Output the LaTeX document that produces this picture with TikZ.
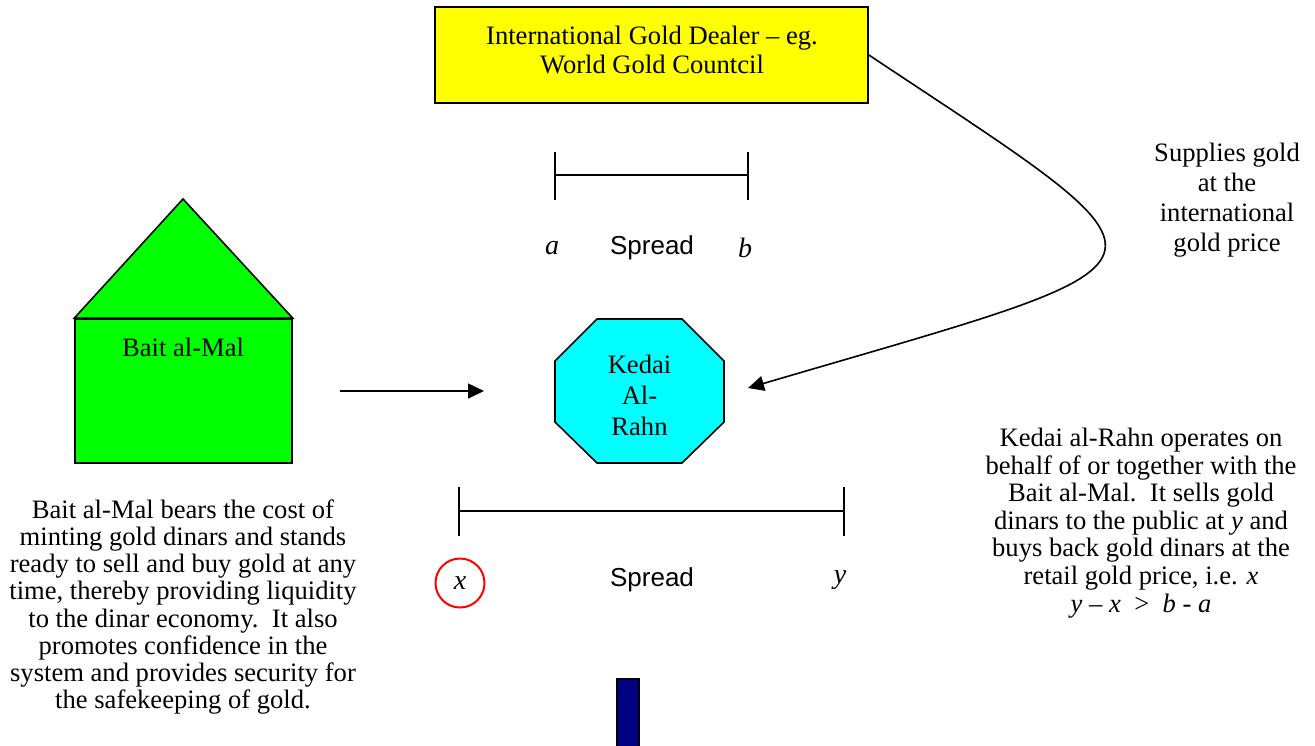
\documentclass[tikz,border=0pt]{standalone}
\usepackage{fontspec}
\setmainfont{Liberation Serif}
\setsansfont{Liberation Sans}
\usetikzlibrary{arrows.meta}
\definecolor{navy}{HTML}{000080}
\definecolor{goldbox}{HTML}{FFFF00}
\definecolor{baitgreen}{HTML}{00FF00}
\definecolor{kedaicyan}{HTML}{00FFFF}

\begin{document}
\begin{tikzpicture}[x=0.5pt,y=-0.5pt,line width=0.8pt,
    arr/.style={-{Triangle[length=8pt,width=7.5pt]}},
    txt/.style={align=center,inner sep=0pt,font=\fontsize{13.3}{13.6}\selectfont},
    letter/.style={inner sep=0pt,font=\fontsize{14}{16}\selectfont\itshape},
    spread/.style={inner sep=0pt,font=\sffamily\fontsize{13}{15}\selectfont}]
	\useasboundingbox (0,0) rectangle (1315,745);
	
	\node[draw,fill=goldbox,minimum width=216.5pt,minimum height=48pt] (dealer) at (651.5,55) {};
	\node[txt,font=\fontsize{13.3}{14.4}\selectfont] (dealertext) at (652,50)
		{International Gold Dealer -- eg.\\World Gold Countcil};
	
	\node[draw,fill=baitgreen,minimum width=108.5pt,minimum height=72pt] (bait) at (183.5,391) {};
	\filldraw[fill=baitgreen] (bait.north west) -- (183,199) -- (bait.north east) -- cycle;
	\node[txt] (baitlabel) at (183,347) {Bait al-Mal};
	
	\filldraw[fill=kedaicyan] (597,319) -- (682,319) -- (724,361) -- (724,422)
		-- (682,463) -- (597,463) -- (555,422) -- (555,361) -- cycle;
	\node[txt,font=\fontsize{13.3}{15.5}\selectfont] (kedai) at (639.5,395) {Kedai\\Al-\\Rahn};
	
	\coordinate (baitout) at (340,391);
	\coordinate (kedaiwest) at (484,391);
	\coordinate (kedaieast) at (748,388);
	\draw[arr] (baitout) -- (kedaiwest);
	\draw[arr] (dealer.east) .. controls (1200,275) and (1200,255) .. (kedaieast);
	
	\draw (555,152) -- (555,200);
	\draw (748,152) -- (748,200);
	\draw (555,175) -- (748,175);
	\node[letter] (a) at (552,248) {a};
	\node[spread] (spreadab) at (652,248) {Spread};
	\node[letter] (b) at (745,248) {b};
	
	\draw (459,487) -- (459,536);
	\draw (844,487) -- (844,536);
	\draw (459,511) -- (844,511);
	\node[letter,circle,draw=red,line width=1pt,minimum size=24.5pt] (x) at (460,583) {x};
	\node[spread] (spreadxy) at (652,580) {Spread};
	\node[letter] (y) at (840,580) {y};
	
	\filldraw[fill=navy] (617,679) rectangle (639,760);
	
	\node[txt] (baitnote) at (183,607) {Bait al-Mal bears the cost of\\minting gold dinars and stands\\ready to sell and buy gold at any\\time, thereby providing liquidity\\to the dinar economy.\ \ It also\\promotes confidence in the\\system and provides security for\\the safekeeping of gold.};
	\node[txt,font=\fontsize{13.3}{13.8}\selectfont] (kedainote) at (1141,523) {Kedai al-Rahn operates on\\behalf of or together with the\\Bait al-Mal.\ \ It sells gold\\dinars to the public at \textit{y} and\\buys back gold dinars at the\\retail gold price, i.e. \textit{x}\\\textit{y} -- \textit{x} \ >\ \ \textit{b} - \textit{a}};
	\node[txt,font=\fontsize{13.3}{15}\selectfont] (supplynote) at (1227,200) {Supplies gold\\at the\\international\\gold price};
\end{tikzpicture}
\end{document}
